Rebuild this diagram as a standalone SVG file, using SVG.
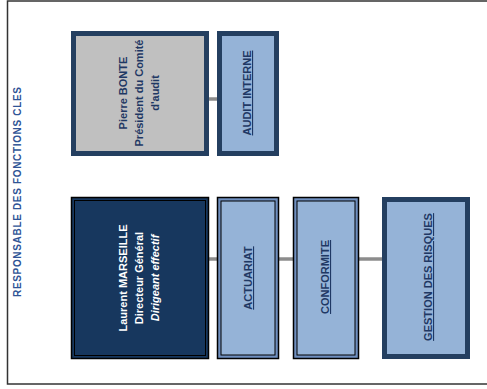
<svg xmlns="http://www.w3.org/2000/svg" width="487" height="389" viewBox="0 0 487 389">
<style>
.t{font-family:"Liberation Sans",Arial,sans-serif;font-weight:bold;font-size:11px;text-anchor:middle}
.dk{fill:#1f3864}
.wh{fill:#ffffff}
.ul{text-decoration:underline}
.con{stroke:#8c8c8c;stroke-width:3.5;fill:none}
</style>
<rect x="0" y="0" width="487" height="389" fill="#ffffff"/>
<rect x="7.5" y="1" width="485" height="383" fill="none" stroke="#333333" stroke-width="1.5"/>
<text class="t" transform="translate(21,192) rotate(-90)" style="font-size:10px;fill:#2f5496" textLength="210" lengthAdjust="spacing">RESPONSABLE DES FONCTIONS CLES</text>
<g id="connectors">
<line class="con" x1="209" y1="99" x2="217" y2="99"/>
<line class="con" x1="209" y1="259" x2="217" y2="259"/>
<line class="con" x1="279" y1="259" x2="293" y2="259"/>
<line class="con" x1="359" y1="259" x2="382" y2="259"/>
</g>
<g id="pierre">
<rect x="73.5" y="33.5" width="133" height="120" fill="#c0c0c0" stroke="#243f60" stroke-width="5"/>
<text class="t dk" transform="translate(127,93) rotate(-90)">Pierre BONTE</text>
<text class="t dk" transform="translate(143,93) rotate(-90)">Président du Comité</text>
<text class="t dk" transform="translate(159,93) rotate(-90)">d'audit</text>
</g>
<g id="audit">
<rect x="219.5" y="33.5" width="57" height="120" fill="#95b3d7" stroke="#243f60" stroke-width="5"/>
<text class="t dk ul" transform="translate(251,93) rotate(-90)">AUDIT INTERNE</text>
</g>
<g id="laurent">
<rect x="71.5" y="197.5" width="137" height="161" fill="#17375e" stroke="#000000" stroke-width="1.5"/>
<rect x="74.5" y="200.5" width="131" height="155" fill="none" stroke="#000000" stroke-width="1"/>
<text class="t wh" transform="translate(127,278) rotate(-90)">Laurent MARSEILLE</text>
<text class="t wh" transform="translate(143,278) rotate(-90)">Directeur Général</text>
<text class="t wh" transform="translate(159,278) rotate(-90)" font-style="italic">Dirigeant effectif</text>
</g>
<g id="actuariat">
<rect x="217.5" y="197.5" width="61" height="161" fill="#6f8fbf" stroke="#000000" stroke-width="1.5"/>
<rect x="221" y="201" width="54" height="154" fill="#95b3d7" stroke="#000000" stroke-width="1"/>
<text class="t dk ul" transform="translate(252,278) rotate(-90)">ACTUARIAT</text>
</g>
<g id="conformite">
<rect x="293.5" y="197.5" width="65" height="161" fill="#6f8fbf" stroke="#000000" stroke-width="1.5"/>
<rect x="297" y="201" width="58" height="154" fill="#95b3d7" stroke="#000000" stroke-width="1"/>
<text class="t dk ul" transform="translate(329,277) rotate(-90)">CONFORMITE</text>
</g>
<g id="gestion">
<rect x="384.5" y="199.5" width="83" height="157" fill="#95b3d7" stroke="#243f60" stroke-width="5"/>
<text class="t dk ul" transform="translate(432,277) rotate(-90)">GESTION DES RISQUES</text>
</g>
</svg>
